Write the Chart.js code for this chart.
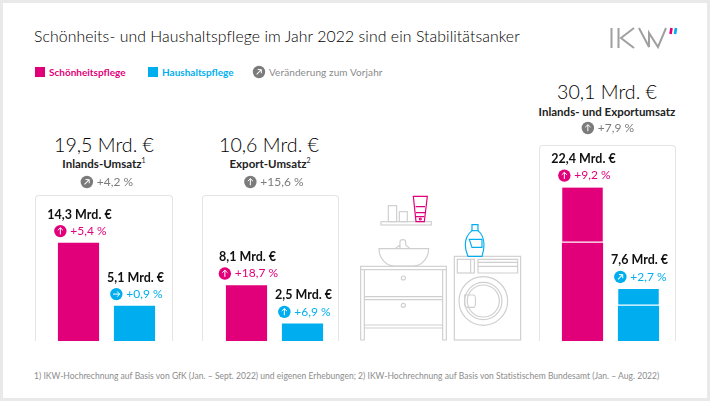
<!DOCTYPE html>
<html>
<head>
<meta charset="utf-8">
<script src="https://cdn.jsdelivr.net/npm/chart.js@4"></script>
<style>
html, body { margin: 0; padding: 0; background: #fff; }
#page { position: relative; width: 710px; height: 401px; overflow: hidden; background: #fff; font-family: Lato, sans-serif; color: #222; }
#page div { position: absolute; white-space: nowrap; }
.frame { background: #e9e9e9; }
.card { box-sizing: border-box; border: 1px solid #e4e4e4; border-bottom: none; border-radius: 4px 4px 0 0; }
.total { font-size: 19.6px; font-weight: 300; transform: translateX(-50%); color: #000; }
.sub { font-size: 11.5px; font-weight: 700; transform: translateX(-50%); color: #222; }
.sub sup { font-size: 7px; font-weight: 400; line-height: 0; }
.legend { font-size: 10px; font-weight: 700; }
canvas { position: absolute; left: 0; top: 0; }
svg { position: absolute; left: 0; top: 0; }
</style>
</head>
<body>
<div id="page">
  <div class="frame" style="left:0;top:0;width:710px;height:3px"></div>
  <div class="frame" style="left:0;top:0;width:3px;height:401px"></div>
  <div class="frame" style="left:707px;top:0;width:3px;height:401px"></div>
  <div class="frame" style="left:0;top:398px;width:710px;height:3px"></div>

  <div style="left:34px;top:26px;font-size:15.8px;font-weight:300;letter-spacing:.08px;color:#000">Schönheits- und Haushaltspflege im Jahr 2022 sind ein Stabilitätsanker</div>

  <div style="left:35px;top:67px;width:10px;height:10px;background:#e2007a"></div>
  <div class="legend" style="left:49px;top:66px;color:#e2007a">Schönheitspflege</div>
  <div style="left:148px;top:67px;width:10px;height:10px;background:#00aeef"></div>
  <div class="legend" style="left:162px;top:66px;color:#00aeef">Haushaltspflege</div>
  <div class="legend" style="left:269px;top:66px;color:#8a8a8a;font-weight:400;letter-spacing:.1px">Veränderung zum Vorjahr</div>

  <div class="card" style="left:35px;top:195px;width:138px;height:146px"></div>
  <div class="card" style="left:202px;top:195px;width:137px;height:146px"></div>
  <div class="card" style="left:539px;top:145px;width:137px;height:196px"></div>

  <div class="total" style="left:104px;top:133px">19,5 Mrd. €</div>
  <div class="sub" style="left:104px;top:157px">Inlands-Umsatz<sup>1</sup></div>
  <div class="total" style="left:269px;top:133px">10,6 Mrd. €</div>
  <div class="sub" style="left:270px;top:157px">Export-Umsatz<sup>2</sup></div>
  <div class="total" style="left:607px;top:80px">30,1 Mrd. €</div>
  <div class="sub" style="left:607px;top:105px">Inlands- und Exportumsatz</div>

  <div style="left:34px;top:371px;font-size:8.5px;color:#8c8c8c;letter-spacing:.02px">1) IKW-Hochrechnung auf Basis von GfK (Jan. – Sept. 2022) und eigenen Erhebungen; 2) IKW-Hochrechnung auf Basis von Statistischem Bundesamt (Jan. – Aug. 2022)</div>

  <!-- logo -->
  <svg width="710" height="401" viewBox="0 0 710 401" fill="none">
    <g stroke="#a0a0a0" stroke-width="2">
      <path d="M611.5 28V48M618.5 28V48M634 28L621 38L634 48M639 28L649 47V33L658 47L666 28"/>
    </g>
    <path d="M671.5 28L670.5 34" stroke="#e2007a" stroke-width="2.6"/>
    <path d="M676 28L675 34" stroke="#00aeef" stroke-width="2.6"/>
  </svg>

  <!-- bathroom illustration, coordinates follow the 3x crop -->
  <svg width="710" height="401" viewBox="0 0 710 401" fill="none">
    <g transform="translate(350 190) scale(.3333)" stroke="#cfcfcf" stroke-width="3.5">
      <rect x="93" y="95" width="151" height="10"/>
      <rect x="115" y="47" width="25" height="48"/>
      <rect x="148" y="65" width="24" height="30"/>
      <path d="M87 176H236C236 205 215 228 190 228H133C108 228 87 205 87 176Z"/>
      <path d="M150 176V155C150 147 167 147 167 155V165M136 176L150 165M180 176L167 165"/>
      <rect x="32" y="229" width="257" height="10"/>
      <path d="M32 239V450H43V239M278 239V450H289V239M43 320H278M43 329H278M43 405H278M43 414H278"/>
      <circle cx="160" cy="264" r="6"/>
      <circle cx="160" cy="346" r="6"/>
      <rect x="313" y="199" width="199" height="251"/>
      <rect x="322" y="208" width="51" height="41"/>
      <path d="M362 208V249"/>
      <path d="M384 208H503V249H384ZM384 217H503M384 229H503"/>
      <circle cx="400" cy="333" r="73"/>
      <circle cx="400" cy="333" r="56"/>
      <circle cx="400" cy="333" r="48"/>
      <path d="M344 315H372C378 315 378 352 372 352H352C344 352 344 345 344 340Z"/>
    </g>
    <g transform="translate(350 190) scale(.3333)" stroke="#e2007a" stroke-width="3.5">
      <path d="M190 19H232L223 95H198Z"/>
      <path d="M197 50H225M197 68H225M198 80H223"/>
      <circle cx="211" cy="87" r="3"/>
    </g>
    <g transform="translate(350 190) scale(.3333)" stroke="#00aeef" stroke-width="3.5">
      <path d="M366 104H384V122C394 130 402 145 402 165C402 180 398 192 396 199H354C351 192 346 180 346 165C346 145 356 130 366 122Z"/>
      <path d="M364 122H386"/>
      <path d="M358 148H396V172H366Z"/>
    </g>
  </svg>

  <canvas id="chart" width="710" height="401"></canvas>
</div>

<script>
const categories = ['Inland Schönheit', 'Inland Haushalt', '', 'Export Schönheit', 'Export Haushalt', '', '', '', '', 'Gesamt Schönheit', 'Gesamt Haushalt'];
// inland part, the right hand bars are stacked from inland + export
const beautyValues = [14.3, null, null, 8.1, null, null, null, null, null, 14.3, null];
const beautyExportValues = [null, null, null, null, null, null, null, null, null, 8.1, null];
const householdValues = [null, 5.1, null, null, 2.5, null, null, null, null, null, 5.1];
const householdExportValues = [null, null, null, null, null, null, null, null, null, null, 2.5];
const barLabels = ['14,3 Mrd. €', '5,1 Mrd. €', '', '8,1 Mrd. €', '2,5 Mrd. €', '', '', '', '', '22,4 Mrd. €', '7,6 Mrd. €'];
const changeLabels = ['+5,4 %', '+0,9 %', '', '+18,7 %', '+6,9 %', '', '', '', '', '+9,2 %', '+2,7 %'];
const changeArrows = [0, 90, 0, 0, 0, 0, 0, 0, 0, 0, 45];
const totalChanges = [['+4,2 %', 45, 107, 182], ['+15,6 %', 0, 274, 182], ['+7,9 %', 0, 608, 128]];

const PINK = '#e2007a';
const BLUE = '#00aeef';
const GREY = '#7b7b7b';

function drawIcon(c, x, y, color, angle) {
    c.save();
    c.fillStyle = color;
    c.beginPath();
    c.arc(x, y, 6.2, 0, Math.PI * 2);
    c.fill();
    c.translate(x, y);
    c.rotate(angle * Math.PI / 180);
    c.strokeStyle = '#fff';
    c.lineWidth = 1;
    c.beginPath();
    c.moveTo(0, 3.3);
    c.lineTo(0, -3.3);
    c.moveTo(-2.6, -0.8);
    c.lineTo(0, -3.3);
    c.lineTo(2.6, -0.8);
    c.stroke();
    c.restore();
}

function drawChange(c, cx, y, text, color, angle, textColor) {
    c.font = '12px Lato';
    const w = c.measureText(text).width;
    const left = cx - (w + 16) / 2;
    drawIcon(c, left + 6, y, color, angle);
    c.fillStyle = textColor || color;
    c.textAlign = 'left';
    c.textBaseline = 'middle';
    c.fillText(text, left + 16, y);
}

// value and change labels sit on top of each bar
const barLabelPlugin = {
    id: 'barLabels',
    afterDraw(chart) {
        const c = chart.ctx;
        const x = chart.scales.x;
        const y = chart.scales.y;
        categories.forEach((name, i) => {
            if (!barLabels[i]) return;
            const isBeauty = beautyValues[i] !== null;
            const total = isBeauty
                ? beautyValues[i] + (beautyExportValues[i] || 0)
                : householdValues[i] + (householdExportValues[i] || 0);
            const top = y.getPixelForValue(total);
            const cx = x.getPixelForValue(i) + 1;
            c.save();
            c.fillStyle = '#111';
            c.font = '700 12.5px Lato';
            c.textAlign = 'center';
            c.textBaseline = 'middle';
            c.fillText(barLabels[i], cx, top - 28.5);
            drawChange(c, cx + 1, top - 12, changeLabels[i], isBeauty ? PINK : BLUE, changeArrows[i]);
            c.restore();
        });
        totalChanges.forEach(t => drawChange(c, t[2], t[3], t[0], GREY, t[1], '#7b7b7b'));
        drawIcon(c, 259, 72, GREY, 45);
    }
};

Chart.defaults.font.family = 'Lato';

new Chart(document.getElementById('chart').getContext('2d'), {
    type: 'bar',
    data: {
        labels: categories,
        datasets: [
            { label: 'Schönheitspflege', data: beautyValues, backgroundColor: PINK },
            { label: 'Schönheitspflege Export', data: beautyExportValues, backgroundColor: PINK, borderColor: '#fff', borderWidth: { bottom: 2 }, borderSkipped: false },
            { label: 'Haushaltspflege', data: householdValues, backgroundColor: BLUE },
            { label: 'Haushaltspflege Export', data: householdExportValues, backgroundColor: BLUE, borderColor: '#fff', borderWidth: { bottom: 2 }, borderSkipped: false }
        ]
    },
    options: {
        responsive: false,
        animation: false,
        layout: { padding: { left: 50.5, right: 43.5, top: 0, bottom: 60 } },
        datasets: { bar: { barThickness: 40.5 } },
        plugins: { legend: { display: false }, tooltip: { enabled: false } },
        scales: {
            x: { stacked: true, display: false },
            y: { stacked: true, display: false, min: 0, max: 49.8 }
        }
    },
    plugins: [barLabelPlugin]
});
</script>
</body>
</html>
